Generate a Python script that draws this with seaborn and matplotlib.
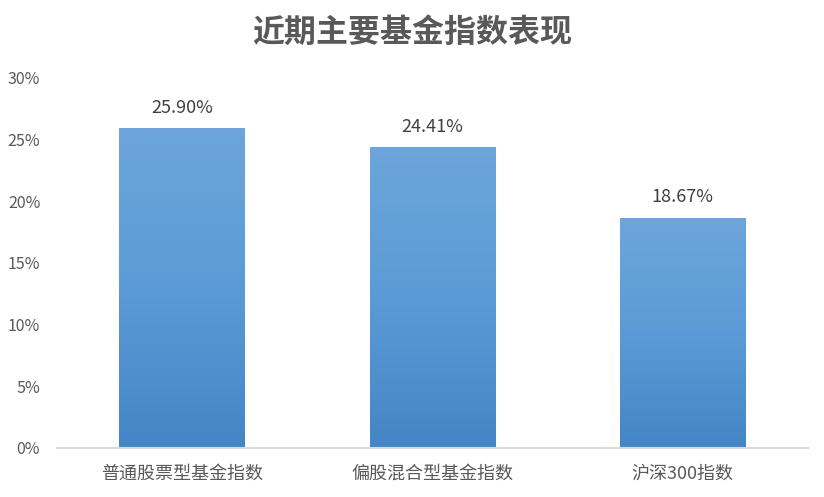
import numpy as np
import pandas as pd
import matplotlib
matplotlib.use("Agg")
import matplotlib.pyplot as plt
from matplotlib.colors import LinearSegmentedColormap
import seaborn as sns

categories = ["普通股票型基金指数", "偏股混合型基金指数", "沪深300指数"]
returns = [25.90, 24.41, 18.67]
labels = ["25.90%", "24.41%", "18.67%"]
y_ticks = [0, 5, 10, 15, 20, 25, 30]

sns.set_theme(style="white")
plt.rcParams['font.family'] = ['Noto Sans CJK SC', 'DejaVu Sans']

df = pd.DataFrame({"cat": categories, "ret": returns})

fig = plt.figure(figsize=(8.24, 4.97), dpi=100)
ax = fig.add_axes([0.069, 0.0986, 0.911, 0.745])

sns.barplot(data=df, x="cat", y="ret", color="#5B9BD5", width=0.5, ax=ax,
            saturation=1)

# gradient fill, light at top and darker at the bottom
cmap = LinearSegmentedColormap.from_list("bar", ["#4485C6", "#5B9BD5", "#6DA5DC"])
grad = np.linspace(0, 1, 256).reshape(-1, 1)
for patch in ax.patches:
    x0, y0 = patch.get_x(), patch.get_y()
    w, h = patch.get_width(), patch.get_height()
    im = ax.imshow(grad, cmap=cmap, aspect="auto", origin="lower",
                   extent=[x0, x0 + w, y0, y0 + h], zorder=2)
    im.set_clip_path(patch)
    patch.set_edgecolor("none")

for i, (v, lab) in enumerate(zip(returns, labels)):
    ax.text(i, v + 0.9, lab, ha="center", va="bottom", fontsize=13, color="#404040")

ax.set_xlim(-0.5, 2.5)
ax.set_ylim(0, 30)
ax.set_yticks(y_ticks)
ax.set_yticklabels([f"{t}%" for t in y_ticks])
ax.set_xlabel("")
ax.set_ylabel("")
ax.tick_params(axis="y", labelsize=11.5, colors="#595959", length=0, pad=12)
ax.tick_params(axis="x", labelsize=13, colors="#595959", length=0, pad=12)

for s in ["top", "right", "left"]:
    ax.spines[s].set_visible(False)
ax.spines["bottom"].set_color("#D9D9D9")
ax.spines["bottom"].set_linewidth(1.5)

fig.text(0.5, 0.933, "近期主要基金指数表现", ha="center", va="center",
         fontsize=23, fontweight="bold", color="#595959")

fig.savefig("out.png", dpi=100)
